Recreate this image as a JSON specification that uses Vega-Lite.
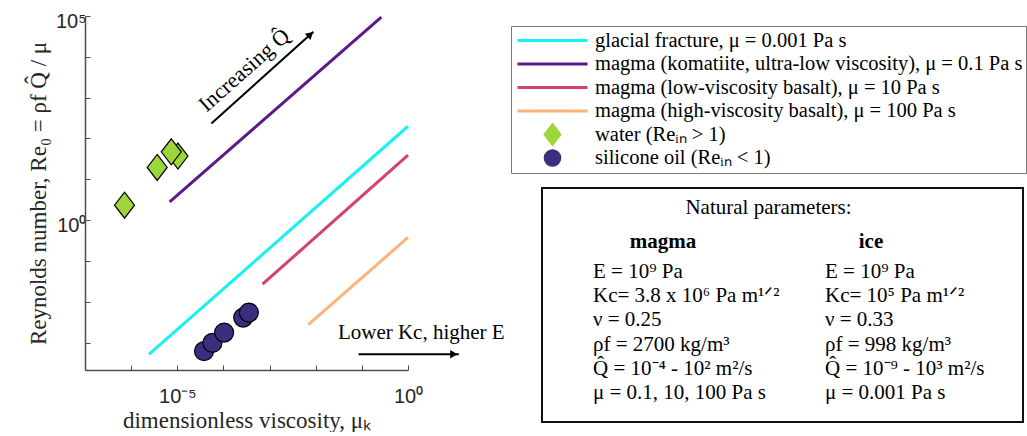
{
  "$schema": "https://vega.github.io/schema/vega-lite/v6.json",
  "background": "white",
  "padding": {"left": 27, "top": 11, "right": 0, "bottom": 0},
  "bounds": "flush",
  "spacing": 134,
  "datasets": {
    "lines": [
      {"series": "glacial fracture, μ = 0.001 Pa s", "x": 2.43e-6, "y": 5.13e-4},
      {"series": "glacial fracture, μ = 0.001 Pa s", "x": 1, "y": 199.5},
      {"series": "magma (komatiite, ultra-low viscosity), μ = 0.1 Pa s", "x": 6.84e-6, "y": 2.81},
      {"series": "magma (komatiite, ultra-low viscosity), μ = 0.1 Pa s", "x": 0.264, "y": 93325},
      {"series": "magma (low-viscosity basalt), μ = 10 Pa s", "x": 7.05e-4, "y": 0.027},
      {"series": "magma (low-viscosity basalt), μ = 10 Pa s", "x": 1, "y": 39.2},
      {"series": "magma (high-viscosity basalt), μ = 100 Pa s", "x": 6.93e-3, "y": 2.78e-3},
      {"series": "magma (high-viscosity basalt), μ = 100 Pa s", "x": 1, "y": 0.377}
    ],
    "experiments": [
      {"series": "water (Reᵢₙ > 1)", "x": 7.19e-7, "y": 2.33},
      {"series": "water (Reᵢₙ > 1)", "x": 3.67e-6, "y": 19.6},
      {"series": "water (Reᵢₙ > 1)", "x": 1.035e-5, "y": 37.1},
      {"series": "water (Reᵢₙ > 1)", "x": 7.41e-6, "y": 47.2},
      {"series": "silicone oil (Reᵢₙ < 1)", "x": 3.80e-5, "y": 6.17e-4},
      {"series": "silicone oil (Reᵢₙ < 1)", "x": 5.77e-5, "y": 9.84e-4},
      {"series": "silicone oil (Reᵢₙ < 1)", "x": 1.035e-4, "y": 1.77e-3},
      {"series": "silicone oil (Reᵢₙ < 1)", "x": 2.68e-4, "y": 4.12e-3},
      {"series": "silicone oil (Reᵢₙ < 1)", "x": 3.56e-4, "y": 5.47e-3}
    ],
    "arrows": [
      {"arrow": "Q", "x": 5.48e-5, "y": 234.4},
      {"arrow": "Q", "x": 8.91e-3, "y": 41210},
      {"arrow": "K", "x": 0.0847, "y": 5.2e-4},
      {"arrow": "K", "x": 12.65, "y": 5.2e-4}
    ],
    "heads": [
      {"arrow": "Q", "x": 7.67e-3, "y": 35400},
      {"arrow": "K", "x": 9.85, "y": 5.2e-4}
    ],
    "notes": [
      {"note": "Increasing Q̂", "x": 2.82e-4, "y": 4742},
      {"note": "Lower Kc, higher E", "x": 1.94, "y": 1.70e-3}
    ],
    "headers": [
      {"col": "magma", "row": "h", "text": "magma"},
      {"col": "ice", "row": "h", "text": "ice"}
    ],
    "params": [
      {"col": "magma", "line": 1, "text": "E = 10⁹ Pa"},
      {"col": "magma", "line": 2, "text": "Kc= 3.8 x 10⁶ Pa m¹ᐟ²"},
      {"col": "magma", "line": 3, "text": "ν = 0.25"},
      {"col": "magma", "line": 4, "text": "ρf = 2700 kg/m³"},
      {"col": "magma", "line": 5, "text": "Q̂ = 10⁻⁴ - 10² m²/s"},
      {"col": "magma", "line": 6, "text": "μ = 0.1, 10, 100 Pa s"},
      {"col": "ice", "line": 1, "text": "E = 10⁹ Pa"},
      {"col": "ice", "line": 2, "text": "Kc= 10⁵ Pa m¹ᐟ²"},
      {"col": "ice", "line": 3, "text": "ν = 0.33"},
      {"col": "ice", "line": 4, "text": "ρf = 998 kg/m³"},
      {"col": "ice", "line": 5, "text": "Q̂ = 10⁻⁹ - 10³ m²/s"},
      {"col": "ice", "line": 6, "text": "μ = 0.001 Pa s"}
    ]
  },
  "config": {
    "view": {"stroke": null},
    "axis": {
      "grid": false,
      "domainColor": "#4d4d4d",
      "domainWidth": 1.5,
      "tickColor": "#4d4d4d",
      "tickWidth": 1,
      "tickSize": -5,
      "labelFont": "Liberation Sans",
      "labelFontSize": 20,
      "labelColor": "#262626",
      "labelOverlap": false,
      "labelFlush": false,
      "titleFont": "Liberation Serif",
      "titleFontSize": 23,
      "titleFontWeight": "normal",
      "titleColor": "#262626"
    }
  },
  "hconcat": [
    {
      "width": 323,
      "height": 354,
      "layer": [
        {
          "data": {"name": "lines"},
          "mark": {"type": "line", "strokeWidth": 3},
          "encoding": {
            "x": {
              "field": "x", "type": "quantitative",
              "scale": {"type": "log", "domain": [1e-7, 1], "nice": false},
              "axis": {
                "title": "dimensionless viscosity, μₖ",
                "values": [1e-7, 1e-6, 1e-5, 1e-4, 1e-3, 1e-2, 1e-1, 1],
                "labelExpr": "abs(log(datum.value)/LN10 + 5) < 0.01 ? '10⁻⁵' : (abs(log(datum.value)/LN10) < 0.01 ? '10⁰' : '')",
                "labelPadding": 21,
                "titlePadding": 3
              }
            },
            "y": {
              "field": "y", "type": "quantitative",
              "scale": {"type": "log", "domain": [2.14e-4, 1e5], "nice": false},
              "axis": {
                "title": "Reynolds number, Re₀ = ρf Q̂ / μ",
                "values": [1e-3, 1e-2, 1e-1, 1, 10, 100, 1000, 1e4, 1e5],
                "labelExpr": "abs(log(datum.value)/LN10 - 5) < 0.01 ? '10⁵' : (abs(log(datum.value)/LN10) < 0.01 ? '10⁰' : '')",
                "labelPadding": 4,
                "labelOffset": 5,
                "titlePadding": 5
              }
            },
            "color": {
              "field": "series", "type": "nominal",
              "scale": {
                "domain": [
                  "glacial fracture, μ = 0.001 Pa s",
                  "magma (komatiite, ultra-low viscosity), μ = 0.1 Pa s",
                  "magma (low-viscosity basalt), μ = 10 Pa s",
                  "magma (high-viscosity basalt), μ = 100 Pa s",
                  "water (Reᵢₙ > 1)",
                  "silicone oil (Reᵢₙ < 1)"
                ],
                "range": ["#19f0f0", "#5a1a8a", "#d4426c", "#fdb27c", "#9dd63b", "#3c2e7e"]
              },
              "legend": {
                "title": null,
                "orient": "none",
                "legendX": 426,
                "legendY": 10,
                "symbolType": "stroke",
                "symbolSize": 4900,
                "symbolStrokeWidth": 3,
                "clipHeight": 23,
                "rowPadding": 0.5,
                "padding": 3,
                "strokeColor": "#7a7a7a",
                "fillColor": "white",
                "labelFont": "Liberation Serif",
                "labelFontSize": 20.5,
                "labelColor": "black",
                "labelLimit": 800,
                "labelOffset": 6,
                "symbolOffset": 2,
                "encode": {
                  "symbols": {
                    "update": {
                      "shape": {"signal": "(indexof(isString(datum) ? datum : datum.value,'water')==0 ? 'M0,-1.3L1,0L0,1.3L-1,0Z' : (indexof(isString(datum) ? datum : datum.value,'silicone')==0 ? 'circle' : 'stroke'))"},
                      "size": {"signal": "(indexof(isString(datum) ? datum : datum.value,'water')==0 ? 289 : (indexof(isString(datum) ? datum : datum.value,'silicone')==0 ? 270 : 4900))"},
                      "fill": {"signal": "(indexof(isString(datum) ? datum : datum.value,'water')==0 ? '#9dd63b' : (indexof(isString(datum) ? datum : datum.value,'silicone')==0 ? '#3c2e7e' : 'transparent'))"},
                      "stroke": {"signal": "(indexof(isString(datum) ? datum : datum.value,'water')==0 || indexof(isString(datum) ? datum : datum.value,'silicone')==0) ? 'black' : (indexof(datum.value,'glacial')==0 ? '#19f0f0' : (indexof(datum.value,'komatiite')>0 ? '#5a1a8a' : (indexof(datum.value,'low-viscosity')>0 ? '#d4426c' : '#fdb27c')))"},
                      "strokeWidth": {"signal": "((indexof(isString(datum) ? datum : datum.value,'water')==0 || indexof(isString(datum) ? datum : datum.value,'silicone')==0) ? 1.2 : 3)"},
                      "opacity": {"value": 1}
                    }
                  }
                }
              }
            }
          }
        },
        {
          "data": {"name": "experiments"},
          "transform": [{"filter": "indexof(datum.series, 'water') == 0"}],
          "mark": {"type": "point", "filled": true, "opacity": 1, "stroke": "black", "strokeWidth": 1.2, "shape": "M0,-1.3L1,0L0,1.3L-1,0Z", "size": 400},
          "encoding": {
            "x": {"field": "x", "type": "quantitative"},
            "y": {"field": "y", "type": "quantitative"},
            "color": {"field": "series", "type": "nominal"}
          }
        },
        {
          "data": {"name": "experiments"},
          "transform": [{"filter": "indexof(datum.series, 'silicone') == 0"}],
          "mark": {"type": "point", "filled": true, "opacity": 1, "stroke": "black", "strokeWidth": 1.2, "shape": "circle", "size": 361},
          "encoding": {
            "x": {"field": "x", "type": "quantitative"},
            "y": {"field": "y", "type": "quantitative"},
            "color": {"field": "series", "type": "nominal"}
          }
        },
        {
          "data": {"name": "arrows"},
          "mark": {"type": "line", "color": "black", "strokeWidth": 2},
          "encoding": {
            "x": {"field": "x", "type": "quantitative"},
            "y": {"field": "y", "type": "quantitative"},
            "detail": {"field": "arrow"}
          }
        },
        {
          "data": {"name": "heads"},
          "transform": [{"filter": "datum.arrow == 'Q'"}],
          "mark": {"type": "point", "shape": "triangle-right", "filled": true, "color": "black", "opacity": 1, "size": 70, "angle": -41.5},
          "encoding": {
            "x": {"field": "x", "type": "quantitative"},
            "y": {"field": "y", "type": "quantitative"}
          }
        },
        {
          "data": {"name": "heads"},
          "transform": [{"filter": "datum.arrow == 'K'"}],
          "mark": {"type": "point", "shape": "triangle-right", "filled": true, "color": "black", "opacity": 1, "size": 70},
          "encoding": {
            "x": {"field": "x", "type": "quantitative"},
            "y": {"field": "y", "type": "quantitative"}
          }
        },
        {
          "data": {"name": "notes"},
          "transform": [{"filter": "datum.note == 'Increasing Q̂'"}],
          "mark": {"type": "text", "font": "Liberation Serif", "fontSize": 22, "color": "black", "angle": -41.5, "align": "center", "baseline": "middle"},
          "encoding": {
            "x": {"field": "x", "type": "quantitative"},
            "y": {"field": "y", "type": "quantitative"},
            "text": {"field": "note"}
          }
        },
        {
          "data": {"name": "notes"},
          "transform": [{"filter": "datum.note != 'Increasing Q̂'"}],
          "mark": {"type": "text", "font": "Liberation Serif", "fontSize": 21, "color": "black", "align": "center", "baseline": "middle"},
          "encoding": {
            "x": {"field": "x", "type": "quantitative"},
            "y": {"field": "y", "type": "quantitative"},
            "text": {"field": "note"}
          }
        }
      ]
    },
    {
      "bounds": "flush",
      "spacing": 72,
      "vconcat": [
        {
          "width": 481,
          "height": 100,
          "data": {"values": [{"blank": ""}]},
          "mark": {"type": "text", "opacity": 0},
          "encoding": {"text": {"field": "blank"}}
        },
        {
          "width": 481,
          "height": 234,
          "view": {"stroke": "#111111", "strokeWidth": 2},
          "title": {
            "text": "Natural parameters:",
            "font": "Liberation Serif",
            "fontSize": 21,
            "fontWeight": "normal",
            "color": "black",
            "anchor": "middle",
            "orient": "top",
            "offset": -47,
            "baseline": "alphabetic",
            "dx": -14
          },
          "layer": [
            {
              "data": {"name": "headers"},
              "mark": {"type": "text", "font": "Liberation Serif", "fontSize": 21, "fontWeight": "bold", "align": "center", "baseline": "middle", "color": "black"},
              "encoding": {
                "x": {"field": "col", "type": "nominal", "scale": {"type": "point", "domain": ["magma", "ice"], "padding": 0.6563, "align": 0.4432}, "axis": null},
                "y": {"field": "row", "type": "nominal", "scale": {"type": "point", "domain": ["h"], "align": 0.2308}, "axis": null},
                "text": {"field": "text"}
              }
            },
            {
              "data": {"name": "params"},
              "mark": {"type": "text", "font": "Liberation Serif", "fontSize": 21, "align": "left", "baseline": "middle", "color": "black"},
              "encoding": {
                "x": {"field": "col", "type": "nominal", "scale": {"type": "point", "domain": ["magma", "ice"], "padding": 0.5366, "align": 0.2048}, "axis": null},
                "y": {"field": "line", "type": "quantitative", "scale": {"domain": [-2.471, 7.198], "reverse": true, "nice": false, "zero": false}, "axis": null},
                "text": {"field": "text"}
              }
            }
          ],
          "resolve": {"scale": {"x": "independent", "y": "independent"}}
        }
      ]
    }
  ]
}
